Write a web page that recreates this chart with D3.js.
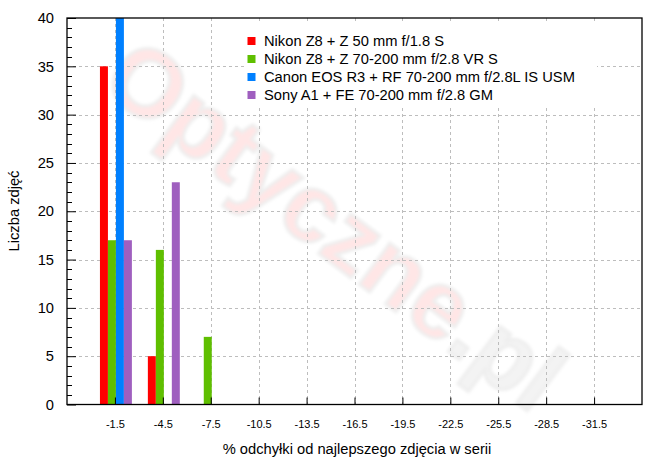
<!DOCTYPE html>
<html>
<head>
<meta charset="utf-8">
<script src="https://cdn.jsdelivr.net/npm/d3@7"></script>
<style>
  html, body { margin: 0; padding: 0; background: #fff; }
  svg { display: block; }
  text { font-family: "Liberation Sans", Arial, sans-serif; fill: #000; }
</style>
</head>
<body>
<svg id="chart" width="670" height="463"></svg>
<script>
const categories = [-1.5, -4.5, -7.5, -10.5, -13.5, -16.5, -19.5, -22.5, -25.5, -28.5, -31.5];
const tickLabels = ["-1.5", "-4.5", "-7.5", "-10.5", "-13.5", "-16.5", "-19.5", "-22.5", "-25.5", "-28.5", "-31.5"];
const seriesNames = [
  "Nikon Z8 + Z 50 mm f/1.8 S",
  "Nikon Z8 + Z 70-200 mm f/2.8 VR S",
  "Canon EOS R3 + RF 70-200 mm f/2.8L IS USM",
  "Sony A1 + FE 70-200 mm f/2.8 GM"
];
const seriesColors = ["#ff0000", "#5fbf00", "#0080ff", "#9f5fbf"];
const nikon50 =   [35, 5, 0, 0, 0, 0, 0, 0, 0, 0, 0];
const nikon70 =   [17, 16, 7, 0, 0, 0, 0, 0, 0, 0, 0];
const canon70 =   [40, 0, 0, 0, 0, 0, 0, 0, 0, 0, 0];
const sony70 =    [17, 23, 0, 0, 0, 0, 0, 0, 0, 0, 0];
const seriesValues = [nikon50, nikon70, canon70, sony70];
const yTicks = [0, 5, 10, 15, 20, 25, 30, 35, 40];

const svg = d3.select("#chart");
const L = 67, R = 642, T = 18, B = 404.5;
const FS = "14.7px";

const x = d3.scaleLinear().domain([1.5, -34.5]).range([L, R]);
const y = d3.scaleLinear().domain([0, 40]).range([B, T]);
const barW = 0.5; // in data units

// watermark
const defs = svg.append("defs");
defs.append("filter").attr("id", "blur").append("feGaussianBlur").attr("stdDeviation", 1.5);
const wm = svg.append("g")
  .attr("transform", "translate(336,224) rotate(37)")
  .attr("filter", "url(#blur)");
const wmt = wm.append("text")
  .attr("text-anchor", "middle")
  .attr("dy", "0.35em")
  .style("font-size", "96px")
  .style("font-weight", "bold")
  .attr("stroke", "#eeeeee")
  .attr("stroke-width", 3);
wmt.append("tspan").text("Optyczne").style("fill", "#ffe6e6");
wmt.append("tspan").text(".pl").style("fill", "#f3f3f3");

// grid
const grid = svg.append("g").attr("stroke", "#bdbdbd").attr("stroke-width", 1).attr("stroke-dasharray", "3,3");
grid.selectAll("line.h").data(yTicks.filter(d => d > 0 && d < 40)).join("line")
  .attr("x1", L).attr("x2", R)
  .attr("y1", d => Math.round(y(d)) + 0.5).attr("y2", d => Math.round(y(d)) + 0.5);
grid.selectAll("line.v").data(categories).join("line")
  .attr("y1", T).attr("y2", B)
  .attr("x1", d => Math.round(x(d)) + 0.5).attr("x2", d => Math.round(x(d)) + 0.5);

// bars
seriesValues.forEach((vals, si) => {
  svg.append("g").selectAll("rect").data(categories).join("rect")
    .attr("x", (c) => x(c + 2 * barW - si * barW) + 1)
    .attr("width", x(0) - x(barW))
    .attr("y", (c, i) => y(vals[i]))
    .attr("height", (c, i) => y(0) - y(vals[i]))
    .attr("fill", seriesColors[si]);
});

// legend (opaque box)
const lg = svg.append("g");
lg.append("rect").attr("x", 244).attr("y", 23).attr("width", 353).attr("height", 82).attr("fill", "#fff");
seriesNames.forEach((name, i) => {
  const yy = 41 + i * 18;
  lg.append("rect").attr("x", 247.5).attr("y", yy - 4).attr("width", 8).attr("height", 8).attr("fill", seriesColors[i]);
  lg.append("text").attr("x", 264).attr("y", yy).attr("dy", "0.36em").style("font-size", FS).text(name);
});

// axes
const yAxis = d3.axisLeft(y).tickValues(yTicks).tickSize(-9).tickPadding(13).tickFormat(d3.format("d"));
const gy = svg.append("g").attr("transform", `translate(${L},0)`).call(yAxis);
gy.select(".domain").remove();
gy.selectAll("text").style("font-size", FS);
gy.selectAll("line").attr("stroke", "#000");
const minor = d3.range(0, 41).filter(d => d % 5 !== 0);
svg.append("g").selectAll("line").data(minor).join("line")
  .attr("x1", L).attr("x2", L + 5)
  .attr("y1", d => Math.round(y(d)) + 0.5).attr("y2", d => Math.round(y(d)) + 0.5)
  .attr("stroke", "#000");

const xAxis = d3.axisBottom(x).tickValues(categories).tickSize(-7).tickPadding(16)
  .tickFormat((d, i) => tickLabels[i]);
const gx = svg.append("g").attr("transform", `translate(0,${B})`).call(xAxis);
gx.select(".domain").remove();
gx.selectAll("text").style("font-size", "11px");
gx.selectAll("line").attr("stroke", "#000");

// frame
svg.append("rect").attr("x", L).attr("y", T).attr("width", R - L).attr("height", B - T)
  .attr("fill", "none").attr("stroke", "#000").attr("stroke-width", 1.3);

// titles
svg.append("text").attr("x", 357).attr("y", 454).attr("text-anchor", "middle")
  .style("font-size", FS).text("% odchyłki od najlepszego zdjęcia w serii");
svg.append("text").attr("transform", "translate(19,211) rotate(-90)").attr("text-anchor", "middle")
  .style("font-size", FS).text("Liczba zdjęć");
</script>
</body>
</html>
